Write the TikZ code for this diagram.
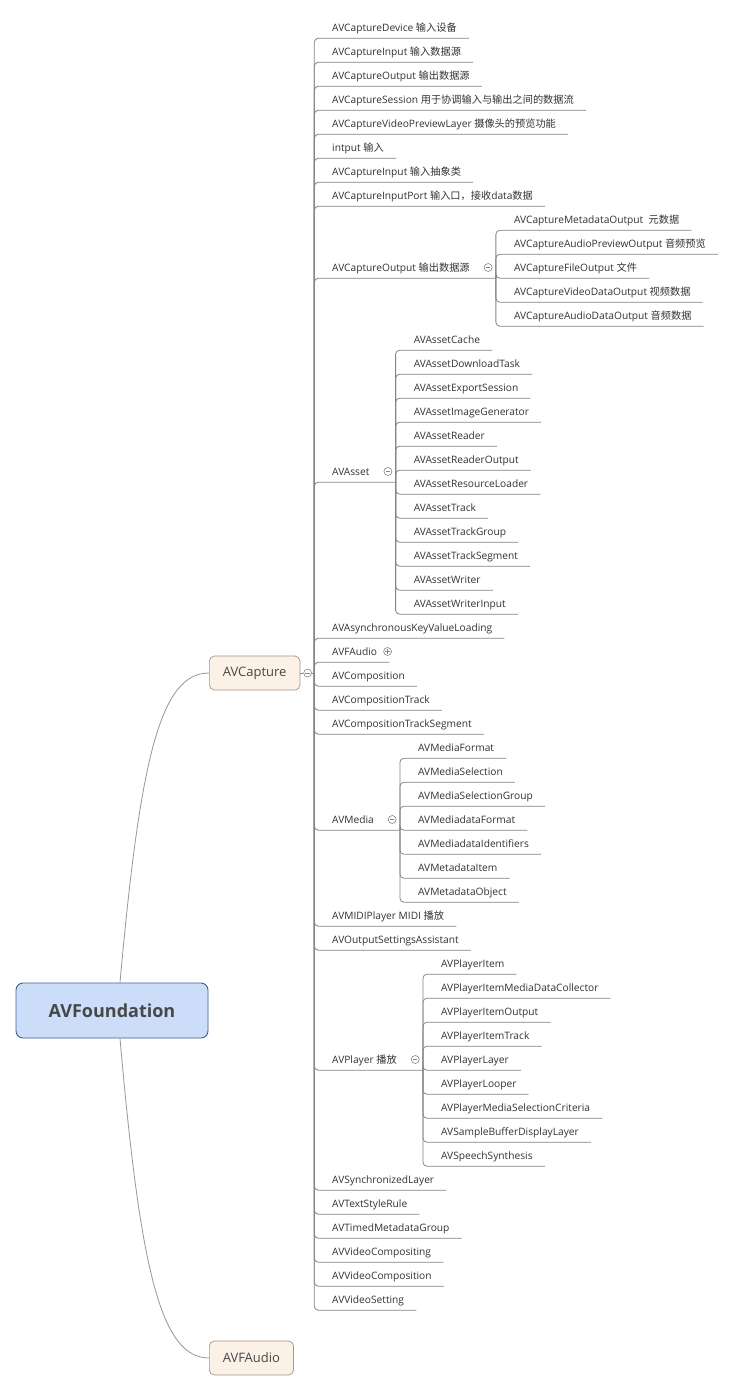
\documentclass[tikz,border=0pt]{standalone}
\usepackage{fontspec}
\setmainfont{Open Sans}
\newfontfamily\cjk{Noto Sans CJK SC}
\usepackage{tikz}
\usetikzlibrary{positioning}
\definecolor{rootfill}{HTML}{CCDDFA}
\definecolor{rootline}{HTML}{3F5F91}
\definecolor{topicfill}{HTML}{FCF1E7}
\definecolor{topicline}{HTML}{A3968A}
\definecolor{labeltext}{HTML}{333333}
\definecolor{headtext}{HTML}{474747}
\definecolor{linegray}{HTML}{858585}
\newcommand{\zh}[1]{{\cjk #1}}
\tikzstyle{central} = [rectangle, rounded corners=7pt, 
minimum width=192pt, 
minimum height=55pt,
line width=0.9pt,
draw=rootline, 
fill=rootfill,
text=headtext,
font=\bfseries\fontsize{18}{22}\selectfont]
\tikzstyle{topic} = [rectangle, rounded corners=5pt, 
inner xsep=13.5pt,
minimum height=34pt,
line width=0.7pt,
draw=topicline, 
fill=topicfill,
text=headtext,
font=\fontsize{13}{16}\selectfont]
\tikzstyle{entry} = [anchor=west, 
inner xsep=0pt, 
inner ysep=0pt,
text height=9pt,
text depth=2pt,
minimum height=21pt,
text=labeltext,
font=\fontsize{10.2}{12}\selectfont]
\tikzstyle{foldmark} = [circle, draw=linegray, fill=white, inner sep=0pt, minimum size=8pt, line width=0.6pt,
path picture={\draw [linegray, line width=0.7pt] ([xshift=-2.2pt]path picture bounding box.center) -- ([xshift=2.2pt]path picture bounding box.center);}]
\tikzstyle{unfoldmark} = [circle, draw=linegray, fill=white, inner sep=0pt, minimum size=8pt, line width=0.6pt,
path picture={\draw [linegray, line width=0.7pt] ([xshift=-2.2pt]path picture bounding box.center) -- ([xshift=2.2pt]path picture bounding box.center)
([yshift=-2.2pt]path picture bounding box.center) -- ([yshift=2.2pt]path picture bounding box.center);}]
\tikzstyle{branch} = [draw=linegray, line width=0.8pt, rounded corners=4pt]
\tikzstyle{link} = [draw=linegray!85, line width=0.8pt]

\begin{document}
\begin{tikzpicture}[x=1pt, y=-1pt, node distance=24pt]
        \fill [white] (0,0) rectangle (732,1392);

        \node (found) [central] at (112,1010.5) {AVFoundation};

        \node (cap) [topic, anchor=west] at (209,673) {AVCapture};

        \node (fa) [topic, anchor=west] at (209,1358) {AVFAudio};

        \draw [link] ([xshift=8pt]found.north) .. controls +(20,-223) and +(-49,0) .. (cap.west);
        \draw [link] ([xshift=8pt]found.south) .. controls +(20,228) and +(-49,0) .. (fa.west);

        \node (capfold) [foldmark, right=3pt of cap] {};
        \coordinate (capj) at ([xshift=14pt]cap.east);
        \draw [branch] (cap) -- (capfold) -- (capj);

        \node (dev) [entry] at (332,27.5) {AVCaptureDevice \zh{输入设备}};
        \node (inp) [entry, below=of dev.west, anchor=west] {AVCaptureInput \zh{输入数据源}};
        \node (outp) [entry, below=of inp.west, anchor=west] {AVCaptureOutput \zh{输出数据源}};
        \node (sess) [entry, below=of outp.west, anchor=west] {AVCaptureSession \zh{用于协调输入与输出之间的数据流}};
        \node (prev) [entry, below=of sess.west, anchor=west] {AVCaptureVideoPreviewLayer \zh{摄像头的预览功能}};
        \node (intput) [entry, below=of prev.west, anchor=west] {intput \zh{输入}};
        \node (inabs) [entry, below=of intput.west, anchor=west] {AVCaptureInput \zh{输入抽象类}};
        \node (port) [entry, below=of inabs.west, anchor=west] {AVCaptureInputPort \zh{输入口，接收}data\zh{数据}};

        \node (capout) [entry, below=72pt of port.west, anchor=west] {AVCaptureOutput \zh{输出数据源}};
        \node (capoutfold) [foldmark, right=14pt of capout] {};
        \coordinate (capoutj) at ([xshift=26pt]capout.south east);
        \coordinate (capoutm) at (capoutj |- capout.west);
        \node (mdo) [entry] at ([shift={(18pt,48pt)}]capoutm) {AVCaptureMetadataOutput~~\zh{元数据}};
        \node (apo) [entry, below=of mdo.west, anchor=west] {AVCaptureAudioPreviewOutput \zh{音频预览}};
        \node (fo) [entry, below=of apo.west, anchor=west] {AVCaptureFileOutput \zh{文件}};
        \node (vdo) [entry, below=of fo.west, anchor=west] {AVCaptureVideoDataOutput \zh{视频数据}};
        \node (ado) [entry, below=of vdo.west, anchor=west] {AVCaptureAudioDataOutput \zh{音频数据}};

        \node (asset) [entry, below=204pt of capout.west, anchor=west] {AVAsset};
        \node (assetfold) [foldmark, right=14pt of asset] {};
        \coordinate (assetj) at ([xshift=26pt]asset.south east);
        \coordinate (assetm) at (assetj |- asset.west);
        \node (cache) [entry] at ([shift={(18pt,132pt)}]assetm) {AVAssetCache};
        \node (dltask) [entry, below=of cache.west, anchor=west] {AVAssetDownloadTask};
        \node (export) [entry, below=of dltask.west, anchor=west] {AVAssetExportSession};
        \node (imggen) [entry, below=of export.west, anchor=west] {AVAssetImageGenerator};
        \node (reader) [entry, below=of imggen.west, anchor=west] {AVAssetReader};
        \node (readout) [entry, below=of reader.west, anchor=west] {AVAssetReaderOutput};
        \node (resload) [entry, below=of readout.west, anchor=west] {AVAssetResourceLoader};
        \node (track) [entry, below=of resload.west, anchor=west] {AVAssetTrack};
        \node (trgroup) [entry, below=of track.west, anchor=west] {AVAssetTrackGroup};
        \node (trseg) [entry, below=of trgroup.west, anchor=west] {AVAssetTrackSegment};
        \node (writer) [entry, below=of trseg.west, anchor=west] {AVAssetWriter};
        \node (wrinput) [entry, below=of writer.west, anchor=west] {AVAssetWriterInput};

        \node (kvl) [entry, below=156pt of asset.west, anchor=west] {AVAsynchronousKeyValueLoading};
        \node (fau) [entry, below=of kvl.west, anchor=west] {AVFAudio};
        \node (faufold) [unfoldmark, right=6pt of fau] {};
        \node (comp) [entry, below=of fau.west, anchor=west] {AVComposition};
        \node (ctrack) [entry, below=of comp.west, anchor=west] {AVCompositionTrack};
        \node (cseg) [entry, below=of ctrack.west, anchor=west] {AVCompositionTrackSegment};

        \node (media) [entry, below=96pt of cseg.west, anchor=west] {AVMedia};
        \node (mediafold) [foldmark, right=14pt of media] {};
        \coordinate (mediaj) at ([xshift=26pt]media.south east);
        \coordinate (mediam) at (mediaj |- media.west);
        \node (mfmt) [entry] at ([shift={(18pt,72pt)}]mediam) {AVMediaFormat};
        \node (msel) [entry, below=of mfmt.west, anchor=west] {AVMediaSelection};
        \node (mselgrp) [entry, below=of msel.west, anchor=west] {AVMediaSelectionGroup};
        \node (mdfmt) [entry, below=of mselgrp.west, anchor=west] {AVMediadataFormat};
        \node (mdid) [entry, below=of mdfmt.west, anchor=west] {AVMediadataIdentifiers};
        \node (mditem) [entry, below=of mdid.west, anchor=west] {AVMetadataItem};
        \node (mdobj) [entry, below=of mditem.west, anchor=west] {AVMetadataObject};

        \node (midi) [entry, below=96pt of media.west, anchor=west] {AVMIDIPlayer MIDI \zh{播放}};
        \node (osa) [entry, below=of midi.west, anchor=west] {AVOutputSettingsAssistant};

        \node (player) [entry, below=120pt of osa.west, anchor=west] {AVPlayer \zh{播放}};
        \node (playerfold) [foldmark, right=14pt of player] {};
        \coordinate (playerj) at ([xshift=26pt]player.south east);
        \coordinate (playerm) at (playerj |- player.west);
        \node (pitem) [entry] at ([shift={(18pt,96pt)}]playerm) {AVPlayerItem};
        \node (pcoll) [entry, below=of pitem.west, anchor=west] {AVPlayerItemMediaDataCollector};
        \node (pout) [entry, below=of pcoll.west, anchor=west] {AVPlayerItemOutput};
        \node (ptrack) [entry, below=of pout.west, anchor=west] {AVPlayerItemTrack};
        \node (playlayer) [entry, below=of ptrack.west, anchor=west] {AVPlayerLayer};
        \node (ploop) [entry, below=of playlayer.west, anchor=west] {AVPlayerLooper};
        \node (pcrit) [entry, below=of ploop.west, anchor=west] {AVPlayerMediaSelectionCriteria};
        \node (sbuf) [entry, below=of pcrit.west, anchor=west] {AVSampleBufferDisplayLayer};
        \node (speech) [entry, below=of sbuf.west, anchor=west] {AVSpeechSynthesis};

        \node (sync) [entry, below=120pt of player.west, anchor=west] {AVSynchronizedLayer};
        \node (tsr) [entry, below=of sync.west, anchor=west] {AVTextStyleRule};
        \node (tmg) [entry, below=of tsr.west, anchor=west] {AVTimedMetadataGroup};
        \node (vcomping) [entry, below=of tmg.west, anchor=west] {AVVideoCompositing};
        \node (vcomp) [entry, below=of vcomping.west, anchor=west] {AVVideoComposition};
        \node (vset) [entry, below=of vcomp.west, anchor=west] {AVVideoSetting};

        \draw [branch] (capj) |- ([xshift=12pt]dev.south east);
        \draw [branch] (capj) |- ([xshift=12pt]inp.south east);
        \draw [branch] (capj) |- ([xshift=12pt]outp.south east);
        \draw [branch] (capj) |- ([xshift=12pt]sess.south east);
        \draw [branch] (capj) |- ([xshift=12pt]prev.south east);
        \draw [branch] (capj) |- ([xshift=12pt]intput.south east);
        \draw [branch] (capj) |- ([xshift=12pt]inabs.south east);
        \draw [branch] (capj) |- ([xshift=12pt]port.south east);
        \draw [branch] (capj) |- (capoutj);
        \draw [branch] (capj) |- (assetj);
        \draw [branch] (capj) |- ([xshift=12pt]kvl.south east);
        \draw [branch] (capj) |- ([xshift=12pt]fau.south east);
        \draw [branch] (capj) |- ([xshift=12pt]comp.south east);
        \draw [branch] (capj) |- ([xshift=12pt]ctrack.south east);
        \draw [branch] (capj) |- ([xshift=12pt]cseg.south east);
        \draw [branch] (capj) |- (mediaj);
        \draw [branch] (capj) |- ([xshift=12pt]midi.south east);
        \draw [branch] (capj) |- ([xshift=12pt]osa.south east);
        \draw [branch] (capj) |- (playerj);
        \draw [branch] (capj) |- ([xshift=12pt]sync.south east);
        \draw [branch] (capj) |- ([xshift=12pt]tsr.south east);
        \draw [branch] (capj) |- ([xshift=12pt]tmg.south east);
        \draw [branch] (capj) |- ([xshift=12pt]vcomping.south east);
        \draw [branch] (capj) |- ([xshift=12pt]vcomp.south east);
        \draw [branch] (capj) |- ([xshift=12pt]vset.south east);

        \draw [branch] (capoutj) |- ([xshift=12pt]mdo.south east);
        \draw [branch] (capoutj) |- ([xshift=12pt]apo.south east);
        \draw [branch] (capoutj) |- ([xshift=12pt]fo.south east);
        \draw [branch] (capoutj) |- ([xshift=12pt]vdo.south east);
        \draw [branch] (capoutj) |- ([xshift=12pt]ado.south east);

        \draw [branch] (assetj) |- ([xshift=12pt]cache.south east);
        \draw [branch] (assetj) |- ([xshift=12pt]dltask.south east);
        \draw [branch] (assetj) |- ([xshift=12pt]export.south east);
        \draw [branch] (assetj) |- ([xshift=12pt]imggen.south east);
        \draw [branch] (assetj) |- ([xshift=12pt]reader.south east);
        \draw [branch] (assetj) |- ([xshift=12pt]readout.south east);
        \draw [branch] (assetj) |- ([xshift=12pt]resload.south east);
        \draw [branch] (assetj) |- ([xshift=12pt]track.south east);
        \draw [branch] (assetj) |- ([xshift=12pt]trgroup.south east);
        \draw [branch] (assetj) |- ([xshift=12pt]trseg.south east);
        \draw [branch] (assetj) |- ([xshift=12pt]writer.south east);
        \draw [branch] (assetj) |- ([xshift=12pt]wrinput.south east);

        \draw [branch] (mediaj) |- ([xshift=12pt]mfmt.south east);
        \draw [branch] (mediaj) |- ([xshift=12pt]msel.south east);
        \draw [branch] (mediaj) |- ([xshift=12pt]mselgrp.south east);
        \draw [branch] (mediaj) |- ([xshift=12pt]mdfmt.south east);
        \draw [branch] (mediaj) |- ([xshift=12pt]mdid.south east);
        \draw [branch] (mediaj) |- ([xshift=12pt]mditem.south east);
        \draw [branch] (mediaj) |- ([xshift=12pt]mdobj.south east);

        \draw [branch] (playerj) |- ([xshift=12pt]pitem.south east);
        \draw [branch] (playerj) |- ([xshift=12pt]pcoll.south east);
        \draw [branch] (playerj) |- ([xshift=12pt]pout.south east);
        \draw [branch] (playerj) |- ([xshift=12pt]ptrack.south east);
        \draw [branch] (playerj) |- ([xshift=12pt]playlayer.south east);
        \draw [branch] (playerj) |- ([xshift=12pt]ploop.south east);
        \draw [branch] (playerj) |- ([xshift=12pt]pcrit.south east);
        \draw [branch] (playerj) |- ([xshift=12pt]sbuf.south east);
        \draw [branch] (playerj) |- ([xshift=12pt]speech.south east);

\end{tikzpicture}
\end{document}
